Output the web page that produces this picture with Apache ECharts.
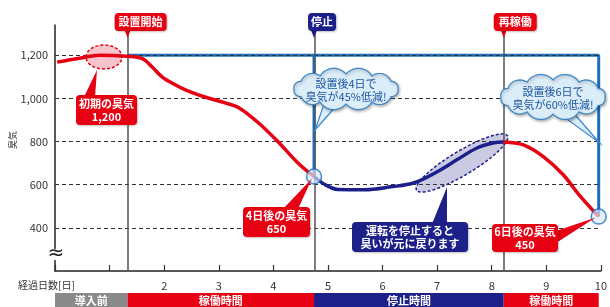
<!DOCTYPE html>
<html><head><meta charset="utf-8">
<script src="https://cdn.jsdelivr.net/npm/echarts@6/dist/echarts.min.js"></script>
<style>html,body{margin:0;padding:0;background:#fff}#c{width:610px;height:307px}</style>
</head><body><div id="c"></div>
<script>
// ---- data ----
const xTickLabels = [2,3,4,5,6,7,8,9,10];
const yTickValues = [400,600,800,1000,1200];
const eventDays = [1.33, 4.745, 8.22];
const eventLabels = ['設置開始','停止','再稼働'];
const runBefore = [[0.04,1168],[0.45,1186],[0.82,1200],[1.31,1195],[1.6,1184],[1.78,1145],[1.96,1100],[2.15,1070],[2.4,1038],[2.64,1015],[2.87,997],[3.13,978],[3.36,958],[3.73,886],[4.09,798],[4.45,701],[4.745,638]];
const stopped = [[4.745,638],[4.95,600],[5.18,578],[5.67,577],[6.15,590],[6.58,609],[7.0,660],[7.36,715],[7.73,770],[8.04,794],[8.22,798]];
const runAfter = [[8.22,798],[8.58,784],[8.95,729],[9.31,646],[9.6,553],[9.96,452]];
const baseline = 1200;
const frameEndDay = 9.96;
const bandEdges = [0, 1.33, 4.745, 8.22, 9.96];
const bandLabels = ['導入前','稼働時間','停止時間','稼働時間'];
const calloutTexts = ['初期の臭気\n1,200','4日後の臭気\n650','6日後の臭気\n450','運転を停止すると\n臭いが元に戻ります'];
const cloudTexts = ['設置後4日で\n臭気が45%低減!','設置後6日で\n臭気が60%低減!'];

const FONT = "'Noto Sans CJK JP','Noto Sans',sans-serif";
const RED = '#e60012', NAVY = '#1d2088', BLUE = '#1a6ebf';

const stopPt = runBefore[runBefore.length-1];
const endPt = runAfter[runAfter.length-1];

const chart = echarts.init(document.getElementById('c'), null, {renderer:'canvas'});
chart.setOption({
  animation:false,
  textStyle:{fontFamily:FONT},
  grid:{left:55,right:5,top:25,bottom:36},
  xAxis:{type:'value',min:0,max:10,interval:1,
    axisLine:{lineStyle:{color:'#222',width:1.5}},
    axisTick:{inside:true,length:6,lineStyle:{color:'#333',width:1.2}},
    axisLabel:{margin:9,fontSize:11,color:'#333',fontFamily:FONT,
      formatter:v=>xTickLabels.includes(v)?String(v):''},
    splitLine:{show:false}},
  yAxis:{type:'value',min:200,max:1340,interval:200,
    axisLine:{show:true,lineStyle:{color:'#222',width:1.5}},
    axisTick:{show:false},
    axisLabel:{margin:7,fontSize:11,color:'#333',fontFamily:FONT,
      formatter:v=>yTickValues.includes(v)?v.toLocaleString('en-US'):''},
    splitLine:{show:false}},
  series:[
    {type:'line',data:[],silent:true,
      markLine:{silent:true,symbol:'none',label:{show:false},
        lineStyle:{type:[4,3],color:'#333',width:1},
        data:yTickValues.map(v=>({yAxis:v}))}},
    {type:'line',data:[],silent:true,z:3,
      markLine:{silent:true,symbol:'none',label:{show:false},
        lineStyle:{type:'solid',color:'#555',width:1.5},
        data:eventDays.map(d=>({xAxis:d}))}},
    {type:'line',z:4,symbol:'none',lineStyle:{color:BLUE,width:3},
      data:[[eventDays[0],baseline],[frameEndDay,baseline],[frameEndDay,endPt[1]]]},
    {type:'line',z:4,symbol:'none',lineStyle:{color:BLUE,width:3},
      data:[[stopPt[0],baseline],[stopPt[0],stopPt[1]]]},
    {type:'line',z:5,symbol:'none',smooth:0.35,lineStyle:{color:RED,width:3.5},data:runBefore},
    {type:'line',z:5,symbol:'none',smooth:0.35,lineStyle:{color:NAVY,width:3.5},data:stopped},
    {type:'line',z:5,symbol:'none',smooth:0.35,lineStyle:{color:RED,width:3.5},data:runAfter},
    {type:'scatter',z:6,symbol:'circle',symbolSize:15,
      itemStyle:{color:'rgba(214,234,248,0.85)',borderColor:BLUE,borderWidth:1.5},
      data:[stopPt,endPt]}
  ]
});

const px = p => chart.convertToPixel({gridIndex:0}, p);
const g = [];
function box(x,y,w,h,fill,text,z){
  g.push({type:'rect',z:z||50,shape:{x,y,width:w,height:h,r:4},
    style:{fill,shadowBlur:2,shadowColor:'rgba(0,0,0,0.25)',shadowOffsetX:1,shadowOffsetY:1}});
  g.push({type:'text',z:(z||50)+1,x:x+w/2,y:y+h/2,
    style:{text,fill:'#fff',font:'bold 11px '+FONT,align:'center',verticalAlign:'middle',lineHeight:13}});
}
function tri(pts,fill,z){ g.push({type:'polygon',z:z||50,shape:{points:pts},style:{fill}}); }

// event header labels
const evOff = [-13,-6,-10], evW = [52,28,43], evCol = [RED,NAVY,RED];
eventDays.forEach((d,i)=>{
  const x = px([d,baseline])[0];
  tri([[x-3,30],[x+3,30],[x,38]],evCol[i],50);
  box(x+evOff[i],13,evW[i],18,evCol[i],eventLabels[i],51);
});

// initial odor ellipse + callout
g.push({type:'ellipse',z:1,shape:{cx:104,cy:57,rx:18,ry:12},
  style:{fill:'#f7c4cb',stroke:RED,lineWidth:1.5,lineDash:[3,2]}});
tri([[84,97],[95,97],[97,70]],RED,49);
box(76,95,61,30,RED,calloutTexts[0]);

// 4 days callout
const sp = px(stopPt);
tri([[283,209],[298,209],[sp[0]-2,sp[1]+2]],RED,49);
box(243,207,67,30,RED,calloutTexts[1]);

// 6 days callout
const ep = px(endPt);
tri([[556,231],[556,243],[ep[0]-3,ep[1]+1]],RED,49);
box(492,224,66,28,RED,calloutTexts[2]);

// stopped region ellipse + callout
g.push({type:'ellipse',z:1,x:462,y:163,rotation:0.54,shape:{cx:0,cy:0,rx:53,ry:12},
  style:{fill:'#cacbe3',stroke:NAVY,lineWidth:1.5,lineDash:[3,2]}});
tri([[432,224],[447,224],[447,187]],NAVY,49);
box(352,222,116,30,NAVY,calloutTexts[3]);

// clouds (scalloped outline sampled into a polygon)
function cloudPoints(cx,cy,rx,ry,n){
  const pts=[];
  for(let i=0;i<n;i++){const t=-Math.PI/2+2*Math.PI*i/n;pts.push([cx+rx*Math.cos(t),cy+ry*Math.sin(t)]);}
  const out=[];
  for(let i=0;i<n;i++){
    const a=pts[i],b=pts[(i+1)%n];
    const dx=b[0]-a[0],dy=b[1]-a[1],ch=Math.hypot(dx,dy),r=ch*0.62;
    const h=Math.sqrt(r*r-ch*ch/4);
    const lx=dy/ch,ly=-dx/ch;
    const c=[(a[0]+b[0])/2-lx*h,(a[1]+b[1])/2-ly*h];
    const a0=Math.atan2(a[1]-c[1],a[0]-c[0]);
    let a1=Math.atan2(b[1]-c[1],b[0]-c[0]);
    let da=a1-a0; while(da>Math.PI)da-=2*Math.PI; while(da<-Math.PI)da+=2*Math.PI;
    for(let k=0;k<10;k++){const t=a0+da*k/10;out.push([c[0]+r*Math.cos(t),c[1]+r*Math.sin(t)]);}
  }
  return out;
}
function cloud(cx,cy,rx,ry,tail,text){
  g.push({type:'polygon',z:60,shape:{points:tail},
    style:{fill:'#dcedfa',stroke:'#3b86c9',lineWidth:1.2}});
  g.push({type:'polygon',z:61,shape:{points:cloudPoints(cx,cy,rx,ry,12)},
    style:{fill:'#dcedfa',stroke:'#3b86c9',lineWidth:1.2,shadowBlur:3,shadowColor:'rgba(0,0,0,0.3)',shadowOffsetX:1,shadowOffsetY:1.5}});
  g.push({type:'text',z:62,x:cx,y:cy+1,
    style:{text,fill:'#1c55a0',font:'11px '+FONT,align:'center',verticalAlign:'middle',lineHeight:13}});
}
cloud(346,89,52,15,[[324,104],[338,104],[sp[0]+1,130]],cloudTexts[0]);
cloud(553,97,52,17,[[557,112],[571,110],[ep[0]+1,143]],cloudTexts[1]);

// bottom bands
const bandCol = ['#8a8a8a',RED,NAVY,RED];
bandLabels.forEach((t,i)=>{
  const x0 = px([bandEdges[i],baseline])[0], x1 = px([bandEdges[i+1],baseline])[0];
  g.push({type:'rect',z:40,shape:{x:x0,y:293,width:x1-x0,height:14},style:{fill:bandCol[i]}});
  g.push({type:'text',z:41,x:(x0+x1)/2,y:300.5,
    style:{text:t,fill:'#fff',font:'bold 11px '+FONT,align:'center',verticalAlign:'middle'}});
});

// axis decorations
g.push({type:'text',z:40,x:18,y:285,style:{text:'経過日数[日]',fill:'#333',font:'10px '+FONT,verticalAlign:'middle'}});
g.push({type:'text',z:40,x:13,y:140,rotation:Math.PI/2,style:{text:'臭気',fill:'#333',font:'9px '+FONT,align:'center',verticalAlign:'middle'}});
g.push({type:'rect',z:40,shape:{x:52,y:249,width:6,height:11},style:{fill:'#fff'}});
g.push({type:'text',z:41,x:56,y:254,style:{text:'≈',fill:'#222',font:'20px DejaVu Sans',align:'center',verticalAlign:'middle'}});

chart.setOption({graphic:{elements:g}});
</script></body></html>
